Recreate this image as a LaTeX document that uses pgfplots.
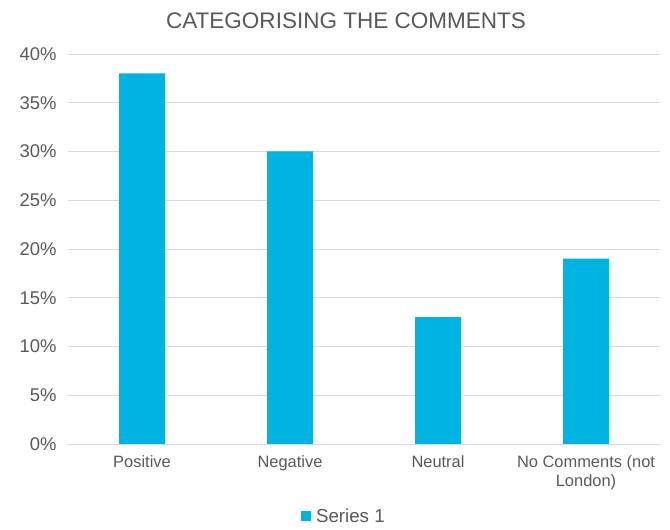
\documentclass[border=0pt]{standalone}
\usepackage{pgfplots}
\pgfplotsset{compat=1.18}
\usepackage{fontspec}
\setmainfont{Liberation Sans}
\definecolor{barblue}{HTML}{00B4E1}
\definecolor{txt}{HTML}{595959}
\definecolor{gridc}{HTML}{D9D9D9}
\begin{document}
\begin{tikzpicture}[x=1bp,y=1bp]
\useasboundingbox (0,0) rectangle (670,530);
\node[text=txt, font=\fontsize{22.6}{26}\selectfont] at (346,509) {CATEGORISING THE COMMENTS};
\begin{axis}[
  at={(68bp,86bp)}, anchor=south west,
  scale only axis, width=592bp, height=390bp,
  ymin=0, ymax=40, xmin=-0.5, xmax=3.5,
  ytick={0,5,...,40},
  yticklabel={\pgfmathprintnumber{\tick}\%},
  /pgf/number format/assume math mode=true,
  xtick={0,1,2,3},
  xticklabels={Positive,Negative,Neutral,{No Comments (not\\London)}},
  xticklabel style={align=center, font=\fontsize{16.5}{19.5}\selectfont, text=txt, yshift=-8bp},
  yticklabel style={font=\fontsize{18.5}{22}\selectfont, text=txt, xshift=-8bp},
  axis lines*=left,
  y axis line style={draw=none},
  x axis line style={draw=gridc, line width=0.9bp},
  major tick length=0,
  ymajorgrids, grid style={draw=gridc, line width=0.9bp},
  ybar, bar width=46bp,
  legend style={at={(0.466,-0.185)}, anchor=center, draw=none, font=\fontsize{18.8}{22}\selectfont, text=txt},
  legend image code/.code={\fill[barblue] (0bp,-5bp) rectangle (10bp,5bp);},
]
\addplot[fill=barblue, draw=none] coordinates {(0,38) (1,30) (2,13) (3,19)};
\addlegendentry{\hspace{3bp}Series 1}
\end{axis}
\end{tikzpicture}
\end{document}
